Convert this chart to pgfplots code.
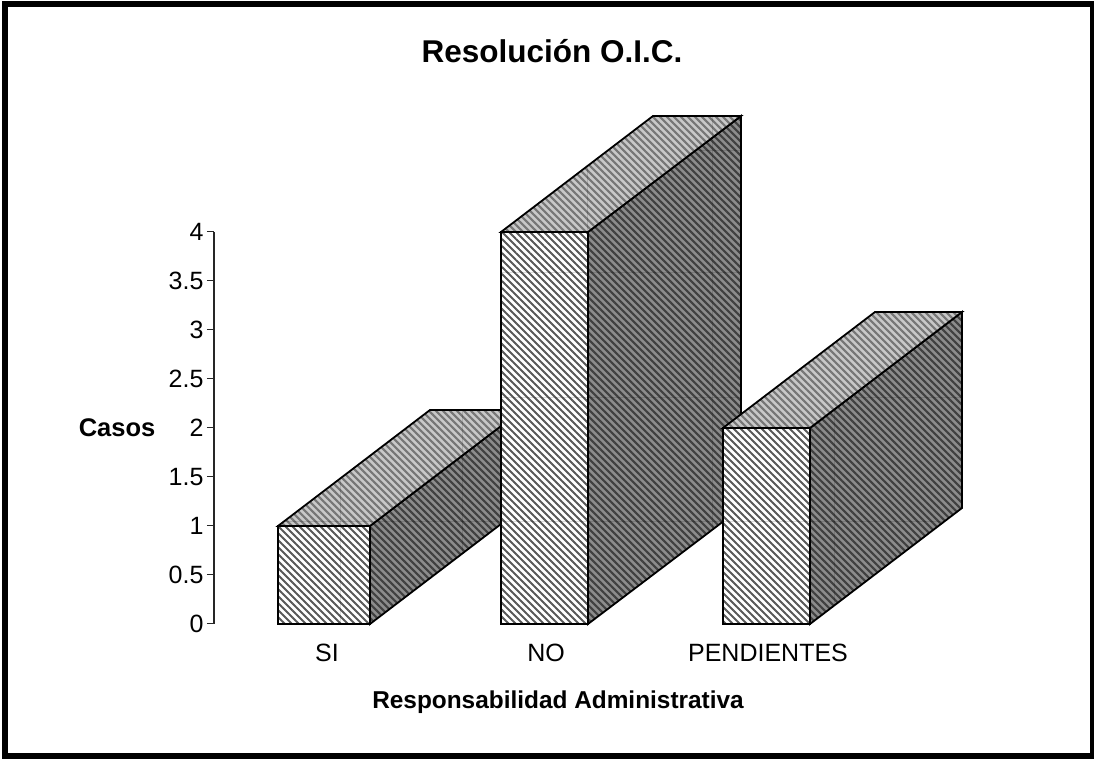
\documentclass[border=0pt]{standalone}
\usepackage{fontspec}
\setmainfont{Liberation Sans}
\usepackage{pgfplots}
\pgfplotsset{compat=1.18}
\usetikzlibrary{patterns.meta}
\definecolor{frontbase}{HTML}{FFFFFF}
\definecolor{frontline}{HTML}{585858}
\definecolor{topbase}{HTML}{C8C8C8}
\definecolor{topline}{HTML}{767676}
\definecolor{sidebase}{HTML}{8C8C8C}
\definecolor{sideline}{HTML}{404040}
\tikzset{
  hatch/.style n args={3}{draw=black,line width=1.8pt,line join=miter,mark=none,
    preaction={fill=#1,draw=none},
    preaction={draw=none,pattern={Lines[angle=-45,distance=4.95pt,line width=#3]},pattern color=#2}},
  frontface/.style={hatch={frontbase}{frontline}{1.9pt}},
  topface/.style={hatch={topbase}{topline}{2.1pt}},
  sideface/.style={hatch={sidebase}{sideline}{2.1pt}},
  tile/.style={black,opacity=0.14,line width=0.8pt,mark=none},
}
\begin{document}
\begin{tikzpicture}[x=1pt,y=1pt]
\path[use as bounding box] (-214pt,-135pt) rectangle (880pt,624pt);
\begin{axis}[
  at={(0pt,0pt)},anchor=origin,
  scale only axis,width=750pt,height=392pt,
  xmin=0,xmax=750,ymin=0,ymax=4,
  clip=false,
  axis x line=bottom,
  axis y line=left,
  separate axis lines,
  y axis line style={-,line width=1.1pt,black!85},
  x axis line style={-,draw=none},
  xtick={113,332,554},
  xticklabels={SI,NO,PENDIENTES},
  x tick style={draw=none},
  x tick label style={font=\fontsize{25}{28}\selectfont,yshift=-10pt},
  ytick={0,0.5,1,1.5,2,2.5,3,3.5,4},
  yticklabels={0,0.5,1,1.5,2,2.5,3,3.5,4},
  tick align=outside,
  major tick length=7pt,
  y tick style={line width=1pt,black!85},
  y tick label style={font=\fontsize{25}{28}\selectfont},
  title={Resolución O.I.C.},
  title style={font=\fontsize{31.5}{36}\selectfont\bfseries,at={(axis description cs:0.4507,1.4465)},anchor=center},
  xlabel={Responsabilidad Administrativa},
  xlabel style={font=\fontsize{24.4}{28}\selectfont\bfseries,at={(axis description cs:0.4587,-0.199)},anchor=center},
  ylabel={Casos},
  ylabel style={font=\fontsize{25.5}{28}\selectfont\bfseries,rotate=-90,at={(axis description cs:-0.1293,0.5)},anchor=center},
  ]
% SI
\addplot[sideface] coordinates {(156,0)(156,1)(308,2.1837)(308,1.1837)} --cycle;
\addplot[topface] coordinates {(64,1)(156,1)(308,2.1837)(216,2.1837)} --cycle;
\addplot[frontface] coordinates {(64,0)(156,0)(156,1)(64,1)} --cycle;
\addplot[tile] coordinates {(71,1.051)(291,1.051)};
\addplot[tile] coordinates {(126,0)(126,1.480)};
\addplot[tile] coordinates {(248,0.714)(248,2.184)};
% NO
\addplot[sideface] coordinates {(374,0)(374,4)(527,5.1837)(527,1.1837)} --cycle;
\addplot[topface] coordinates {(287,4)(374,4)(527,5.1837)(439,5.1837)} --cycle;
\addplot[frontface] coordinates {(287,0)(374,0)(374,4)(287,4)} --cycle;
\addplot[tile] coordinates {(287,3.592)(527,3.592)};
\addplot[tile] coordinates {(287,2.316)(527,2.316)};
\addplot[tile] coordinates {(287,1.051)(510,1.051)};
\addplot[tile] coordinates {(482,4.837)(527,4.837)};
\addplot[tile] coordinates {(498,0.959)(498,5.184)};
\addplot[tile] coordinates {(373,4)(373,4.673)};
% PENDIENTES
\addplot[sideface] coordinates {(596,0)(596,2)(748,3.1837)(748,1.1837)} --cycle;
\addplot[topface] coordinates {(509,2)(596,2)(748,3.1837)(661,3.1837)} --cycle;
\addplot[frontface] coordinates {(509,0)(596,0)(596,2)(509,2)} --cycle;
\addplot[tile] coordinates {(509,1.051)(731,1.051)};
\addplot[tile] coordinates {(637,2.316)(748,2.316)};
\addplot[tile] coordinates {(620,0.184)(620,2.184)};
\end{axis}
\draw[line width=5.6pt,black] (-209.2pt,-132.2pt) rectangle (879pt,620pt);
\end{tikzpicture}
\end{document}
